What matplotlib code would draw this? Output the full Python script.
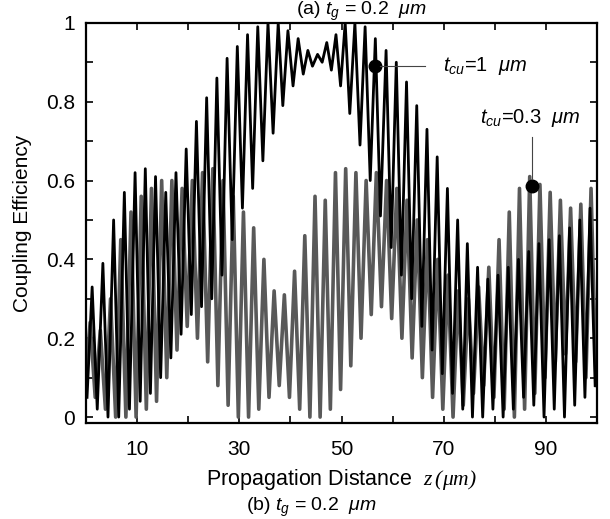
import numpy as np
import matplotlib
matplotlib.use("Agg")
import matplotlib.pyplot as plt

plt.rcParams["font.family"] = ["Liberation Sans", "DejaVu Sans"]
plt.rcParams["mathtext.fontset"] = "custom"
plt.rcParams["mathtext.rm"] = "Liberation Sans"
plt.rcParams["mathtext.it"] = "Liberation Sans:italic"
plt.rcParams["mathtext.sf"] = "Liberation Serif:italic"  # serif italic for z (um)

# ── Data: peaks and troughs of each fast oscillation ──────────────────────────

# t_cu = 1 um (black)
thick_peak_z = [1.2, 3.3, 5.4, 7.5, 9.6, 11.6, 13.6, 15.6, 17.6, 19.6,
                21.6, 23.6, 25.6, 27.6, 29.6, 31.6, 33.6, 35.6, 37.6, 39.5,
                41.5, 43.4, 45.3, 47.1, 48.9, 50.7, 52.6, 54.6, 56.6, 58.7,
                60.7, 62.7, 64.7, 66.7, 68.7, 70.7, 72.7, 74.6, 76.6, 78.6,
                80.6, 82.6, 84.6, 86.6, 88.6, 90.6, 92.6, 94.6, 96.6, 98.6]
thick_peak_y = [0.33, 0.39, 0.50, 0.57, 0.62, 0.63, 0.61, 0.57, 0.62, 0.68,
                0.75, 0.81, 0.86, 0.91, 0.94, 0.97, 0.99, 1.00, 1.00, 0.98,
                0.96, 0.93, 0.92, 0.95, 0.97, 1.00, 1.00, 0.99, 0.96, 0.93,
                0.90, 0.85, 0.79, 0.73, 0.66, 0.58, 0.50, 0.44, 0.38, 0.35,
                0.36, 0.38, 0.40, 0.42, 0.44, 0.45, 0.46, 0.48, 0.50, 0.53]
thick_trough_z = [0.2, 2.2, 4.3, 6.4, 8.5, 10.6, 12.6, 14.6, 16.6, 18.6,
                  20.6, 22.6, 24.6, 26.6, 28.6, 30.6, 32.6, 34.6, 36.6, 38.5,
                  40.5, 42.5, 44.3, 46.2, 48.0, 49.8, 51.6, 53.6, 55.6, 57.6,
                  59.7, 61.7, 63.7, 65.7, 67.7, 69.7, 71.7, 73.7, 75.6, 77.6,
                  79.6, 81.6, 83.6, 85.6, 87.6, 89.6, 91.6, 93.6, 95.6, 97.6,
                  99.6]
thick_trough_y = [0.05, 0.02, 0.00, 0.00, 0.02, 0.04, 0.06, 0.10, 0.15, 0.21,
                  0.26, 0.28, 0.30, 0.36, 0.45, 0.53, 0.58, 0.65, 0.72, 0.79,
                  0.84, 0.87, 0.89, 0.90, 0.88, 0.84, 0.77, 0.69, 0.60, 0.51,
                  0.43, 0.36, 0.30, 0.23, 0.17, 0.11, 0.06, 0.02, 0.00, 0.00,
                  0.02, 0.00, 0.02, 0.05, 0.03, 0.00, 0.02, 0.00, 0.03, 0.05,
                  0.08]

# t_cu = 0.3 um (grey)
thin_peak_z = [0.8, 2.8, 4.8, 6.8, 8.8, 10.8, 12.8, 14.8, 16.8, 18.8,
               20.8, 22.8, 24.8, 26.8, 28.8, 30.8, 32.8, 34.8, 36.8, 38.8,
               40.8, 42.8, 44.8, 46.8, 48.8, 50.8, 52.8, 54.8, 56.8, 58.8,
               60.8, 62.8, 64.8, 66.8, 68.8, 70.8, 72.8, 74.8, 76.8, 78.8,
               80.8, 82.8, 84.8, 86.8, 88.8, 90.8, 92.8, 94.8, 96.8, 98.8]
thin_peak_y = [0.24, 0.22, 0.30, 0.45, 0.52, 0.56, 0.58, 0.60, 0.60, 0.58,
               0.60, 0.62, 0.63, 0.60, 0.56, 0.52, 0.48, 0.40, 0.32, 0.31,
               0.37, 0.46, 0.56, 0.55, 0.62, 0.63, 0.62, 0.60, 0.62, 0.60,
               0.58, 0.55, 0.50, 0.45, 0.40, 0.36, 0.32, 0.30, 0.33, 0.38,
               0.45, 0.52, 0.58, 0.61, 0.59, 0.57, 0.55, 0.53, 0.54, 0.58]
thin_trough_z = [0.0, 1.8, 3.8, 5.8, 7.8, 9.8, 11.8, 13.8, 15.8, 17.8,
                 19.8, 21.8, 23.8, 25.8, 27.8, 29.8, 31.8, 33.8, 35.8, 37.8,
                 39.8, 41.8, 43.8, 45.8, 47.8, 49.8, 51.8, 53.8, 55.8, 57.8,
                 59.8, 61.8, 63.8, 65.8, 67.8, 69.8, 71.8, 73.8, 75.8, 77.8,
                 79.8, 81.8, 83.8, 85.8, 87.8, 89.8, 91.8, 93.8, 95.8, 97.8,
                 99.8]
thin_trough_y = [0.10, 0.05, 0.02, 0.00, 0.00, 0.00, 0.02, 0.04, 0.10, 0.17,
                 0.23, 0.20, 0.14, 0.08, 0.03, 0.00, 0.00, 0.02, 0.05, 0.08,
                 0.05, 0.02, 0.00, 0.00, 0.02, 0.07, 0.13, 0.20, 0.26, 0.28,
                 0.25, 0.20, 0.15, 0.10, 0.05, 0.02, 0.00, 0.03, 0.06, 0.08,
                 0.05, 0.02, 0.00, 0.02, 0.06, 0.10, 0.14, 0.16, 0.14, 0.10,
                 0.08]

# marked points and their labels
mark_thick = (56.6, 0.89)
mark_thin = (87.3, 0.585)

x_ticks = [0, 10, 20, 30, 40, 50, 60, 70, 80, 90, 100]
x_labels = ["", "10", "", "30", "", "50", "", "70", "", "90", ""]
y_ticks = [0, 0.1, 0.2, 0.3, 0.4, 0.5, 0.6, 0.7, 0.8, 0.9, 1.0]
y_labels = ["0", "", "0.2", "", "0.4", "", "0.6", "", "0.8", "", "1"]


def merge(pz, py, tz, ty):
    z = np.array(pz + tz)
    y = np.array(py + ty)
    order = np.argsort(z)
    return z[order], y[order]


fig = plt.figure(figsize=(6.10, 5.19), dpi=100)
ax = fig.add_axes([0.141, 0.185, 0.838, 0.771])

z2, y2 = merge(thin_peak_z, thin_peak_y, thin_trough_z, thin_trough_y)
z1, y1 = merge(thick_peak_z, thick_peak_y, thick_trough_z, thick_trough_y)
ax.plot(z2, y2, color="#595959", lw=2.6, solid_joinstyle="round")
ax.plot(z1, y1, color="black", lw=2.0, solid_joinstyle="round")

# annotations
ax.plot(*mark_thick, "o", color="black", ms=9)
ax.plot([mark_thick[0] + 1, 66.3], [mark_thick[1]] * 2, color="#444444", lw=0.8)
ax.text(69.8, mark_thick[1], r"$t_{cu}$=1  $\mu m$", fontsize=14.5,
        va="center", ha="left")
ax.plot(*mark_thin, "o", color="black", ms=9)
ax.plot([mark_thin[0]] * 2, [mark_thin[1] + 0.02, 0.71], color="#444444", lw=0.8)
ax.text(87.0, 0.758, r"$t_{cu}$=0.3  $\mu m$", fontsize=14.5,
        va="center", ha="center")

ax.set_xlim(0, 100)
ax.set_ylim(-0.015, 1.0)
ax.set_xticks(x_ticks)
ax.set_xticklabels(x_labels)
ax.set_yticks(y_ticks)
ax.set_yticklabels(y_labels)
ax.tick_params(direction="in", top=True, right=True, length=5, width=1.2,
               labelsize=15)
ax.tick_params(axis="x", pad=12)
ax.tick_params(axis="y", pad=8)
for s in ax.spines.values():
    s.set_linewidth(1.6)

ax.set_xlabel(r"Propagation Distance  $\mathsf{z\,(\mu m)}$", fontsize=15.5,
              labelpad=6)
ax.set_ylabel("Coupling Efficiency", fontsize=15, labelpad=10)

fig.text(0.593, 1.0, r"(a) $t_g$ = 0.2  $\mu m$", fontsize=14,
         ha="center", va="top")
fig.text(0.51, 0.0, r"(b) $t_g$ = 0.2  $\mu m$", fontsize=14,
         ha="center", va="bottom")

fig.savefig("out.png", dpi=100)
